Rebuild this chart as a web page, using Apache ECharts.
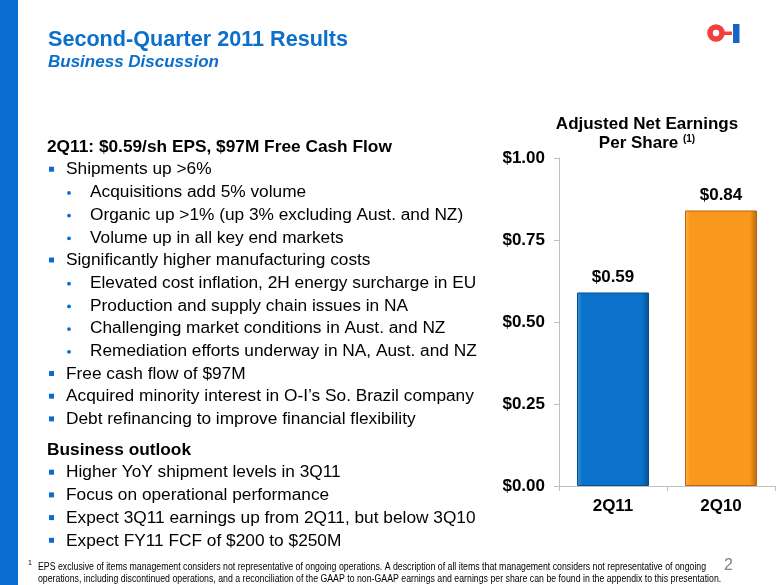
<!DOCTYPE html>
<html>
<head>
<meta charset="utf-8">
<script src="https://cdn.jsdelivr.net/npm/echarts@6/dist/echarts.min.js"></script>
<style>
html,body{margin:0;padding:0;background:#fff;}
#chart{width:780px;height:585px;}
</style>
</head>
<body>
<div id="chart"></div>
<script>
// ---- data ----
const categories = ['2Q11', '2Q10'];
const epsValues = [0.59, 0.84];
const yTickValues = [0, 0.25, 0.5, 0.75, 1.0];

const titleText = 'Second-Quarter 2011 Results';
const subtitleText = 'Business Discussion';
const chartTitleLine1 = 'Adjusted Net Earnings';
const chartTitleLine2 = 'Per Share';
const chartTitleNote = '(1)';

const block1Header = '2Q11: $0.59/sh EPS, $97M Free Cash Flow';
const block1Items = [
  [1, 'Shipments up >6%'],
  [2, 'Acquisitions add 5% volume'],
  [2, 'Organic up >1% (up 3% excluding Aust. and NZ)'],
  [2, 'Volume up in all key end markets'],
  [1, 'Significantly higher manufacturing costs'],
  [2, 'Elevated cost inflation, 2H energy surcharge in EU'],
  [2, 'Production and supply chain issues in NA'],
  [2, 'Challenging market conditions in Aust. and NZ'],
  [2, 'Remediation efforts underway in NA, Aust. and NZ'],
  [1, 'Free cash flow of $97M'],
  [1, 'Acquired minority interest in O-I\u2019s So. Brazil company'],
  [1, 'Debt refinancing to improve financial flexibility']
];
const block2Header = 'Business outlook';
const block2Items = [
  [1, 'Higher YoY shipment levels in 3Q11'],
  [1, 'Focus on operational performance'],
  [1, 'Expect 3Q11 earnings up from 2Q11, but below 3Q10'],
  [1, 'Expect FY11 FCF of $200 to $250M']
];
const footnoteLines = [
  'EPS exclusive of items management considers not representative of ongoing operations. A description of all items that management considers not representative of ongoing',
  'operations, including discontinued operations, and a reconciliation of the GAAP to non-GAAP earnings and earnings per share can be found in the appendix to this presentation.'
];
const pageNumber = '2';

// ---- styles ----
const BLUE = '#0B6FCB';
const FONT = 'Liberation Sans, Arial, sans-serif';
const BODY = '17.3px ';

const chart = echarts.init(document.getElementById('chart'));

const graphics = [];
// left blue band
graphics.push({type: 'rect', shape: {x: 0, y: 0, width: 18, height: 585}, style: {fill: '#0A6CD0'}, silent: true});
// titles
graphics.push({type: 'text', x: 48, y: 40, style: {text: titleText, fill: BLUE, font: 'bold 21.6px ' + FONT, verticalAlign: 'middle'}});
graphics.push({type: 'text', x: 48, y: 62, style: {text: subtitleText, fill: BLUE, font: 'italic bold 17px ' + FONT, verticalAlign: 'middle'}});
// logo
graphics.push({type: 'ring', shape: {cx: 716, cy: 33, r: 8.8, r0: 3.2}, style: {fill: '#F0413C'}});
graphics.push({type: 'rect', shape: {x: 723, y: 31.5, width: 9, height: 3.5}, style: {fill: '#F0413C'}});
graphics.push({type: 'rect', shape: {x: 733, y: 24, width: 6.5, height: 19}, style: {fill: '#1565C8'}});

// body text
function addHeader(text, y) {
  graphics.push({type: 'text', x: 47, y: y, style: {text: text, fill: '#000', font: 'bold ' + BODY + FONT, verticalAlign: 'middle'}});
}
function addItem(level, text, y) {
  if (level === 1) {
    graphics.push({type: 'rect', shape: {x: 49, y: y - 3, width: 5, height: 5}, style: {fill: '#0A6CD0'}});
    graphics.push({type: 'text', x: 66, y: y, style: {text: text, fill: '#000', font: BODY + FONT, verticalAlign: 'middle'}});
  } else {
    graphics.push({type: 'circle', shape: {cx: 69, cy: y + 0.5, r: 1.9}, style: {fill: '#0A6CD0'}});
    graphics.push({type: 'text', x: 90, y: y, style: {text: text, fill: '#000', font: BODY + FONT, verticalAlign: 'middle'}});
  }
}
const LH = 22.7;
addHeader(block1Header, 147);
block1Items.forEach((it, i) => addItem(it[0], it[1], 147 + (i + 1) * LH));
addHeader(block2Header, 450);
block2Items.forEach((it, i) => addItem(it[0], it[1], 450 + (i + 1) * LH));

// chart title
graphics.push({type: 'text', x: 647, y: 124, style: {text: chartTitleLine1, fill: '#000', font: 'bold 17px ' + FONT, align: 'center', verticalAlign: 'middle'}});
graphics.push({type: 'text', x: 647, y: 143, style: {
  text: '{a|' + chartTitleLine2 + ' }{s|' + chartTitleNote + '}',
  align: 'center', verticalAlign: 'middle',
  rich: {a: {font: 'bold 17px ' + FONT, fill: '#000'}, s: {font: 'bold 10px ' + FONT, fill: '#000', verticalAlign: 'top', padding: [0, 0, 8, 0]}}
}});

// footnote
graphics.push({type: 'text', x: 28, y: 563, style: {text: '1', fill: '#000', font: '7px ' + FONT, verticalAlign: 'middle'}});
footnoteLines.forEach((t, i) => {
  graphics.push({type: 'text', x: 38, y: 567 + i * 12, scaleX: 0.876, style: {text: t, fill: '#000', font: '10px ' + FONT, verticalAlign: 'middle'}});
});
graphics.push({type: 'text', x: 724, y: 566, style: {text: pageNumber, fill: '#808080', font: '16px ' + FONT, verticalAlign: 'middle'}});

function barGradient(light, main, dark) {
  return new echarts.graphic.LinearGradient(0, 0, 1, 0, [
    {offset: 0, color: light},
    {offset: 0.07, color: main},
    {offset: 0.9, color: main},
    {offset: 1, color: dark}
  ]);
}
const barStyles = [
  {color: barGradient('#3B95E0', '#0B72CB', '#064F92'), borderColor: '#0A4E8C'},
  {color: barGradient('#FDB24A', '#F8981C', '#B86810'), borderColor: '#B7670F'}
];

chart.setOption({
  animation: false,
  graphic: graphics,
  grid: {left: 559, right: 5, top: 158, bottom: 99, containLabel: false},
  xAxis: {
    type: 'category',
    data: categories,
    axisLine: {show: true, lineStyle: {color: '#BFBFBF', width: 1}},
    axisTick: {show: true, length: 5, lineStyle: {color: '#BFBFBF'}},
    axisLabel: {color: '#000', fontFamily: FONT, fontWeight: 'bold', fontSize: 17, margin: 12}
  },
  yAxis: {
    type: 'value',
    min: yTickValues[0],
    max: yTickValues[yTickValues.length - 1],
    interval: yTickValues[1] - yTickValues[0],
    axisLine: {show: true, lineStyle: {color: '#BFBFBF', width: 1}},
    axisTick: {show: true, length: 5, lineStyle: {color: '#BFBFBF'}},
    splitLine: {show: false},
    axisLabel: {color: '#000', fontFamily: FONT, fontWeight: 'bold', fontSize: 17, margin: 14,
      formatter: v => '$' + v.toFixed(2)}
  },
  series: [{
    type: 'bar',
    barWidth: 72,
    data: epsValues.map((v, i) => ({value: v, itemStyle: Object.assign({borderWidth: 1}, barStyles[i])})),
    label: {show: true, position: 'top', distance: 7, color: '#000', fontFamily: FONT, fontWeight: 'bold', fontSize: 17,
      formatter: p => '$' + p.value.toFixed(2)}
  }]
});
</script>
</body>
</html>
